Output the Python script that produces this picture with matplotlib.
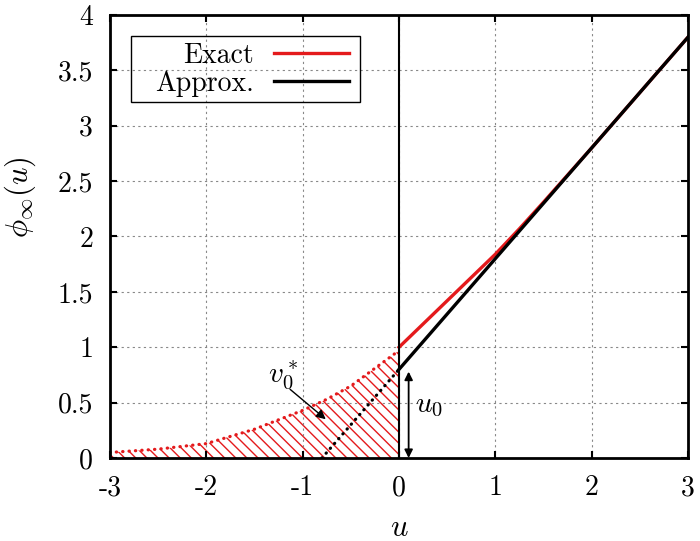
import matplotlib.pyplot as plt
from matplotlib.patches import Rectangle

plt.rcParams['font.family'] = 'cmr10'
plt.rcParams['mathtext.fontset'] = 'cm'
plt.rcParams['axes.formatter.use_mathtext'] = True

# exact solution, u < 0 (dotted) and u > 0 (solid)
u_neg = [-3, -2.5, -2, -1.5, -1, -0.75, -0.5, -0.25, 0]
phi_neg = [0.05, 0.08, 0.13, 0.26, 0.43, 0.53, 0.65, 0.81, 0.97]
u_pos = [0, 0.25, 0.5, 0.75, 1.0, 1.25, 1.5, 2.0, 2.5, 3.0]
phi_pos = [1.0, 1.21, 1.42, 1.63, 1.84, 2.07, 2.31, 2.8, 3.3, 3.8]

# approximation (straight line, u0 = 0.8)
u0 = 0.8
u_apx = [-u0, 0, 3]
phi_apx = [0, u0, 3 + u0]

xticks = [-3, -2, -1, 0, 1, 2, 3]
yticks = [0, 0.5, 1, 1.5, 2, 2.5, 3, 3.5, 4]
xticklabels = ['-3', '-2', '-1', '0', '1', '2', '3']
yticklabels = ['0', '0.5', '1', '1.5', '2', '2.5', '3', '3.5', '4']

red = '#e41a1c'
dots = (0, (0.1, 1.9))

fig = plt.figure(figsize=(7, 5.41), dpi=100)
ax = fig.add_axes([0.157, 0.1534, 0.826, 0.819])

ax.fill_between(u_neg, phi_neg, 0, facecolor='none', edgecolor=red,
                hatch='\\\\\\', linewidth=0)
ax.plot(u_neg, phi_neg, color=red, lw=2.3, linestyle=dots, dash_capstyle='round')
ax.plot(u_apx[:2], phi_apx[:2], color='black', lw=2.3, linestyle=dots,
        dash_capstyle='round')
ax.plot(u_pos, phi_pos, color=red, lw=2.4, label='Exact')
ax.plot(u_apx[1:], phi_apx[1:], color='black', lw=2.4, label='Approx.')
ax.plot([0, 0], [0, 4], color='black', lw=1.5)

ax.annotate('', xy=(0.1, 0), xytext=(0.1, u0 - 0.02),
            arrowprops=dict(arrowstyle='<|-|>', color='black', lw=1.3,
                            mutation_scale=12, shrinkA=0, shrinkB=0))
ax.text(0.17, 0.47, r'$u_0$', fontsize=21, va='center')
ax.text(-1.2, 0.74, r'$v_0^*$', fontsize=21, ha='center', va='center')
ax.annotate('', xy=(-0.76, 0.35), xytext=(-1.13, 0.62),
            arrowprops=dict(arrowstyle='-|>', color='black', lw=1.0,
                            mutation_scale=14, shrinkA=0, shrinkB=0))

ax.set_xlim(-3, 3)
ax.set_ylim(0, 4)
ax.set_xticks(xticks)
ax.set_xticklabels(xticklabels)
ax.set_yticks(yticks)
ax.set_yticklabels(yticklabels)
ax.tick_params(direction='in', top=True, right=True, length=5, width=1.5,
               labelsize=20, pad=12)
ax.grid(True, color='#888888', linestyle=(0, (2, 3)), lw=0.8)
for s in ax.spines.values():
    s.set_linewidth(2)

ax.set_xlabel(r'$u$', fontsize=22, labelpad=10)
ax.set_ylabel(r'$\phi_\infty(u)$', fontsize=22)
ax.yaxis.set_label_coords(-0.125, 0.589)

# legend box drawn gnuplot style (transparent, grid shows through)
ax.add_patch(Rectangle((0.0363, 0.8036), 0.3962, 0.149, transform=ax.transAxes,
                       facecolor='none', edgecolor='black', lw=1.0, zorder=4))
leg = ax.legend(loc='upper left', bbox_to_anchor=(0.078, 0.937), fontsize=20,
                markerfirst=False, frameon=False, handlelength=2.7,
                borderpad=0, labelspacing=0.05, handletextpad=0.72,
                borderaxespad=0)
leg.set_zorder(5)
for t in leg.get_texts():
    t.set_ha('right')

fig.savefig('out.png', dpi=100)
